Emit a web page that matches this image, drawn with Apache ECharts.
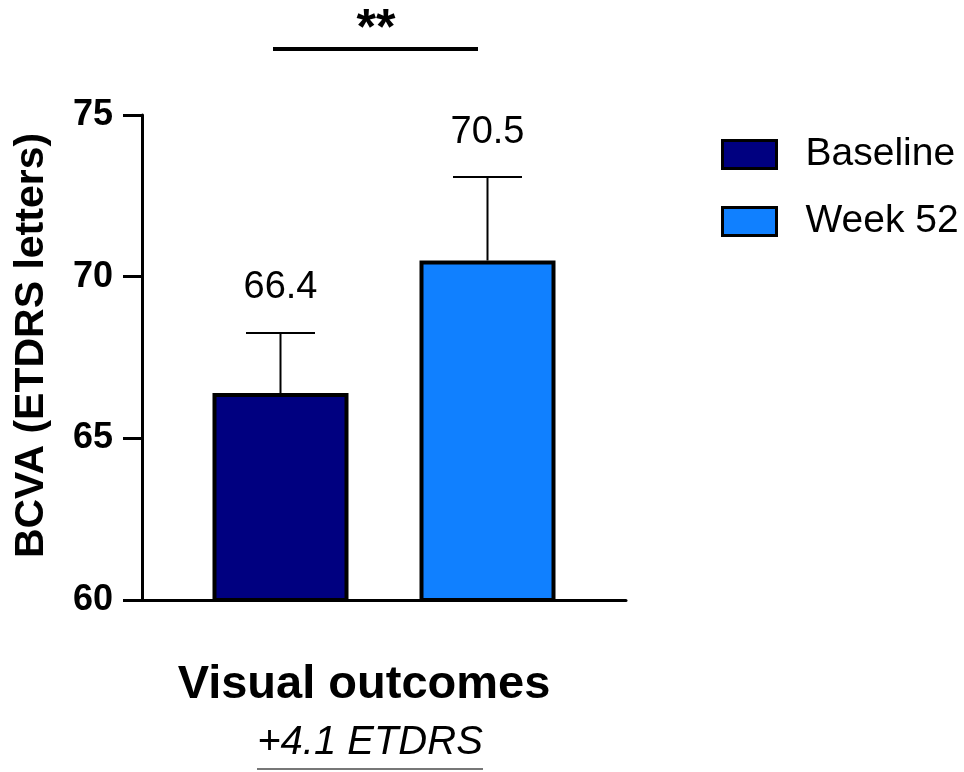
<!DOCTYPE html>
<html>
<head>
<meta charset="utf-8">
<script src="https://cdn.jsdelivr.net/npm/echarts@6/dist/echarts.min.js"></script>
<style>html,body{margin:0;padding:0;background:#fff}#c{width:964px;height:772px}</style>
</head>
<body>
<div id="c"></div>
<script>
const categories = [''];
const seriesNames = ['Baseline', 'Week 52'];
const means = [66.4, 70.5];
const errors = [1.86, 2.58];
const colors = ['#000080', '#1080FF'];
const yTicks = [60, 65, 70, 75];
const xTitle = 'Visual outcomes';
const subTitle = '+4.1 ETDRS';
const yTitle = 'BCVA (ETDRS letters)';
const sigLabel = '**';

const FONT = '"Liberation Sans", Arial, sans-serif';
const BAR_W = 136, BAR_GAP = 71;
const chart = echarts.init(document.getElementById('c'), null, {renderer: 'canvas'});

const barSeries = seriesNames.map((name, i) => ({
  name: name,
  type: 'bar',
  data: [means[i]],
  barWidth: BAR_W,
  barGap: (BAR_GAP / BAR_W * 100).toFixed(2) + '%',
  itemStyle: {color: colors[i], borderColor: '#000', borderWidth: 4},
  z: 2
}));

const errData = means.map((m, i) => [i, m, errors[i]]);

const option = {
  animation: false,
  backgroundColor: '#fff',
  grid: {left: 142, right: 338, top: 115, bottom: 172, containLabel: false, outerBoundsMode: 'none'},
  legend: {
    orient: 'vertical', left: 716, top: 130, itemWidth: 54, itemHeight: 28, itemGap: 28,
    icon: 'rect',
    itemStyle: {borderColor: '#000', borderWidth: 3},
    textStyle: {fontFamily: FONT, fontSize: 39, color: '#000', padding: [0, 0, 0, 24]},
    data: seriesNames
  },
  xAxis: {
    type: 'category', data: categories,
    axisLine: {lineStyle: {color: '#000', width: 3}},
    axisTick: {show: false}, axisLabel: {show: false}
  },
  yAxis: {
    type: 'value', min: yTicks[0], max: yTicks[yTicks.length - 1], interval: 5,
    name: yTitle, nameLocation: 'middle', nameGap: 90,
    nameTextStyle: {fontFamily: FONT, fontSize: 41, fontWeight: 'bold', color: '#000', padding: [0, 0, 0, 24]},
    axisLine: {show: true, lineStyle: {color: '#000', width: 3}},
    axisTick: {show: true, length: 19, lineStyle: {color: '#000', width: 3}},
    axisLabel: {margin: 29, fontFamily: FONT, fontSize: 36, fontWeight: 'bold', color: '#000'},
    splitLine: {show: false}
  },
  series: barSeries.concat([{
    type: 'custom',
    name: 'err',
    data: errData,
    z: 1,
    renderItem: function (params, api) {
      const idx = api.value(0);
      const m = api.value(1);
      const e = api.value(2);
      const off = (idx - (means.length - 1) / 2) * (BAR_W + BAR_GAP);
      const base = api.coord([0, m]);
      const top = api.coord([0, m + e]);
      const x = base[0] + off;
      const capHalf = 34.5;
      return {
        type: 'group',
        children: [
          {type: 'line', shape: {x1: x, y1: base[1], x2: x, y2: top[1]}, style: {stroke: '#000', lineWidth: 2}},
          {type: 'line', shape: {x1: x - capHalf, y1: top[1], x2: x + capHalf, y2: top[1]}, style: {stroke: '#000', lineWidth: 2}},
          {type: 'text', x: x, y: top[1] - 45,
           style: {text: means[idx].toFixed(1), x: 0, y: 0, align: 'center', verticalAlign: 'middle',
                   font: '38px ' + FONT, fill: '#000'}}
        ]
      };
    }
  }]),
  graphic: [
    {type: 'line', shape: {x1: 273, y1: 49, x2: 478, y2: 49}, style: {stroke: '#000', lineWidth: 4}},
    {type: 'text', x: 376, y: 30, style: {text: sigLabel, align: 'center', verticalAlign: 'middle', font: 'bold 50px ' + FONT, fill: '#000'}},
    {type: 'text', x: 364, y: 685, style: {text: xTitle, align: 'center', verticalAlign: 'middle', font: 'bold 47px ' + FONT, fill: '#000'}},
    {type: 'text', x: 370, y: 743, style: {text: subTitle, align: 'center', verticalAlign: 'middle', font: 'italic 40px ' + FONT, fill: '#000'}},
    {type: 'line', shape: {x1: 257, y1: 769, x2: 483, y2: 769}, style: {stroke: '#777', lineWidth: 2}}
  ]
};
chart.setOption(option);
</script>
</body>
</html>
